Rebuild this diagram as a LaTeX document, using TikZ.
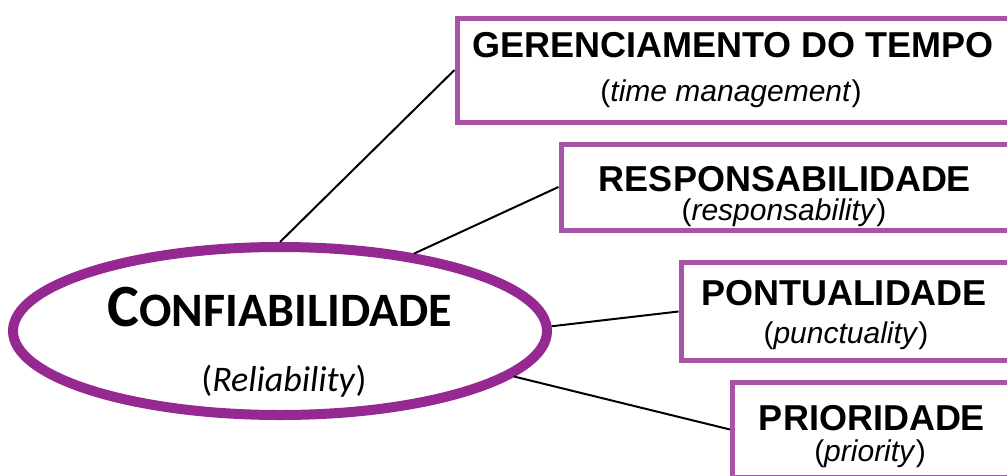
\documentclass[tikz,border=0pt]{standalone}
\usepackage{fontspec}
\setmainfont{Liberation Sans}
\newfontfamily\calfont{Carlito}
\usetikzlibrary{shapes.geometric}

\definecolor{ovalpurple}{RGB}{150,40,145}
\definecolor{boxpurple}{RGB}{168,84,166}

\tikzset{
  oval/.style={ellipse, draw=ovalpurple, line width=10pt, fill=white,
    minimum width=534pt, minimum height=168pt, inner sep=0pt},
  termbox/.style={rectangle, draw=boxpurple, line width=5pt, fill=white,
    anchor=north west, inner sep=0pt},
  title/.style={anchor=base, inner sep=0pt,
    font=\bfseries\fontsize{36}{36}\selectfont},
  gloss/.style={anchor=base, inner sep=0pt,
    font=\fontsize{30}{30}\selectfont},
  link/.style={draw=black, line width=2pt},
}

\begin{document}
\begin{tikzpicture}[x=1pt,y=-1pt]
  \useasboundingbox (0,0) rectangle (1007,475);
  \clip (0,0) rectangle (1007,475);

  % central concept
  \node[oval] (e) at (280,331) {};
  \node[anchor=base, inner sep=0pt, font=\calfont\bfseries] (ct) at (280,326)
    {\fontsize{60}{60}\selectfont C\fontsize{48}{48}\selectfont ONFIABILIDADE};
  \node[anchor=base, inner sep=0pt, font=\calfont\fontsize{36}{36}\selectfont] (cr) at (284,391)
    {(\textit{Reliability})};

  % attribute boxes (running off the right edge)
  \node[termbox, minimum width=563pt, minimum height=104pt] (b1) at (454.5,15.5) {};
  \node[termbox, minimum width=454pt, minimum height=86pt]  (b2) at (558.5,141.5) {};
  \node[termbox, minimum width=334pt, minimum height=98pt]  (b3) at (678.5,260) {};
  \node[termbox, minimum width=282pt, minimum height=95pt]  (b4) at (730,379.5) {};

  \node[title] (t1) at (733,57)  {GERENCIAMENTO DO TEMPO};
  \node[gloss] (g1) at (731,101) {(\textit{time management})};
  \node[title] (t2) at (785,191) {RESPONSABILIDADE};
  \node[gloss] (g2) at (784,220) {(\textit{responsability})};
  \node[title] (t3) at (844,305) {PONTUALIDADE};
  \node[gloss] (g3) at (846,343) {(\textit{punctuality})};
  \node[title] (t4) at (872,430) {PRIORIDADE};
  \node[gloss] (g4) at (870,461) {(\textit{priority})};

  % connectors
  \draw[link] (e.north) -- (b1.west);
  \draw[link] (e.30)    -- (b2.west);
  \draw[link] (e.1)     -- (b3.west);
  \draw[link] (e.349)   -- (b4.west);
\end{tikzpicture}
\end{document}
